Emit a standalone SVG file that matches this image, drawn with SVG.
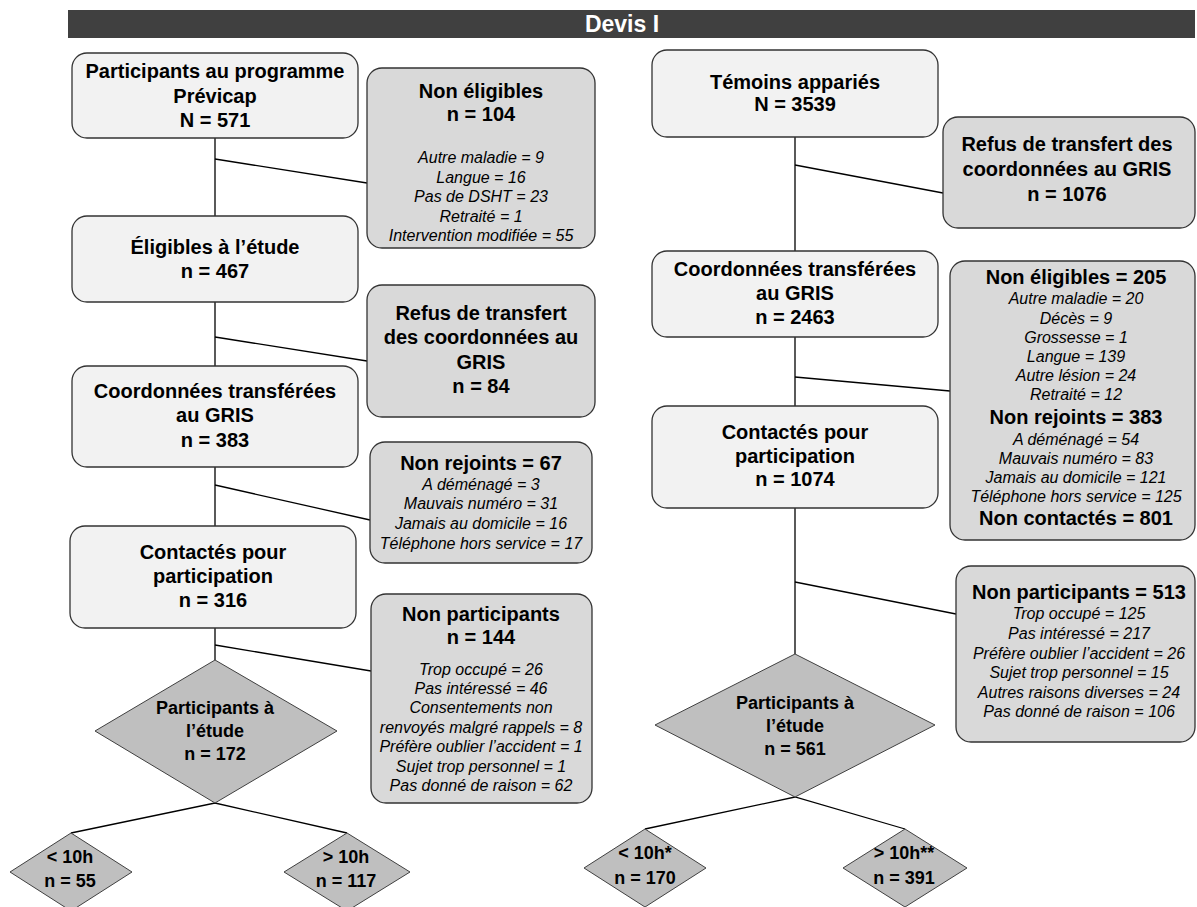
<svg xmlns="http://www.w3.org/2000/svg" width="1197" height="907" viewBox="0 0 1197 907">
  <style>
    text { font-family: "Liberation Sans", Arial, sans-serif; text-anchor: middle; fill: #000; }
    .title { font-size: 23px; font-weight: bold; fill: #fff; }
    .b { font-size: 20px; font-weight: bold; }
    .d { font-size: 18px; font-weight: bold; }
    .i { font-size: 16px; font-style: italic; }
    .lb { fill: #f2f2f2; stroke: #333; stroke-width: 1.3; }
    .gb { fill: #d9d9d9; stroke: #333; stroke-width: 1.3; }
    .dm { fill: #bfbfbf; stroke: #404040; stroke-width: 1; }
    .cn { stroke: #000; stroke-width: 1.3; fill: none; }
  </style>

  <!-- header -->
  <g id="header">
    <rect x="68" y="10" width="1127" height="28" fill="#404040"/>
    <text class="title" x="622" y="32">Devis I</text>
  </g>

  <!-- connectors -->
  <g id="connectors">
    <line class="cn" x1="215" y1="138" x2="215" y2="660"/>
    <line class="cn" x1="215" y1="159" x2="367" y2="183"/>
    <line class="cn" x1="215" y1="337" x2="367" y2="361"/>
    <line class="cn" x1="215" y1="485" x2="370" y2="520"/>
    <line class="cn" x1="215" y1="645" x2="371" y2="671"/>
    <polyline class="cn" points="71,833 215,803 347,833"/>

    <line class="cn" x1="795" y1="137" x2="795" y2="654"/>
    <line class="cn" x1="795" y1="165" x2="943" y2="193"/>
    <line class="cn" x1="795" y1="377" x2="950" y2="391"/>
    <line class="cn" x1="795" y1="582" x2="956" y2="614"/>
    <polyline class="cn" points="645,829 795,797 905,829"/>
  </g>

  <!-- left column -->
  <g id="prevVicap">
    <rect class="lb" x="72" y="53" width="286" height="85" rx="15"/>
    <text class="b" x="215" y="78">Participants au programme</text>
    <text class="b" x="215" y="103">Prévicap</text>
    <text class="b" x="215" y="127">N = 571</text>
  </g>
  <g id="eligibles">
    <rect class="lb" x="72" y="216" width="286" height="86" rx="15"/>
    <text class="b" x="215" y="254">Éligibles à l’étude</text>
    <text class="b" x="215" y="278">n = 467</text>
  </g>
  <g id="coordL">
    <rect class="lb" x="72" y="366" width="286" height="101" rx="15"/>
    <text class="b" x="215" y="398">Coordonnées transférées</text>
    <text class="b" x="215" y="422">au GRIS</text>
    <text class="b" x="215" y="447">n = 383</text>
  </g>
  <g id="contactesL">
    <rect class="lb" x="70" y="526" width="286" height="102" rx="15"/>
    <text class="b" x="213" y="559">Contactés pour</text>
    <text class="b" x="213" y="583">participation</text>
    <text class="b" x="213" y="607">n = 316</text>
  </g>
  <g id="participantsL">
    <polygon class="dm" points="215,660 337,731 215,803 95,731"/>
    <text class="d" x="215" y="714">Participants à</text>
    <text class="d" x="215" y="737">l’étude</text>
    <text class="d" x="215" y="760">n = 172</text>
  </g>
  <g id="moinsL">
    <polygon class="dm" points="71,833 132,872 71,911 10,872"/>
    <text class="d" x="70" y="863">&lt; 10h</text>
    <text class="d" x="70" y="887">n = 55</text>
  </g>
  <g id="plusL">
    <polygon class="dm" points="347,833 410,872 347,911 284,872"/>
    <text class="d" x="346" y="863">&gt; 10h</text>
    <text class="d" x="346" y="887">n = 117</text>
  </g>

  <g id="nonEligiblesL">
    <rect class="gb" x="367" y="68" width="228" height="180" rx="15"/>
    <text class="b" x="481" y="98">Non éligibles</text>
    <text class="b" x="481" y="121">n = 104</text>
    <text class="i" x="481" y="163">Autre maladie = 9</text>
    <text class="i" x="481" y="182.5">Langue = 16</text>
    <text class="i" x="481" y="202">Pas de DSHT = 23</text>
    <text class="i" x="481" y="221.5">Retraité = 1</text>
    <text class="i" x="481" y="241">Intervention modifiée = 55</text>
  </g>
  <g id="refusL">
    <rect class="gb" x="367" y="285" width="228" height="132" rx="15"/>
    <text class="b" x="481" y="320">Refus de transfert</text>
    <text class="b" x="481" y="344">des coordonnées au</text>
    <text class="b" x="481" y="369">GRIS</text>
    <text class="b" x="481" y="393">n = 84</text>
  </g>
  <g id="nonRejointsL">
    <rect class="gb" x="370" y="442" width="222" height="121" rx="15"/>
    <text class="b" x="481" y="470">Non rejoints = 67</text>
    <text class="i" x="481" y="489.5">A déménagé = 3</text>
    <text class="i" x="481" y="508.5">Mauvais numéro = 31</text>
    <text class="i" x="481" y="528.5">Jamais au domicile = 16</text>
    <text class="i" x="481" y="548.5">Téléphone hors service = 17</text>
  </g>
  <g id="nonParticipantsL">
    <rect class="gb" x="371" y="594" width="221" height="209" rx="15"/>
    <text class="b" x="481" y="621">Non participants</text>
    <text class="b" x="481" y="644">n = 144</text>
    <text class="i" x="481" y="674.5">Trop occupé = 26</text>
    <text class="i" x="481" y="693.5">Pas intéressé = 46</text>
    <text class="i" x="481" y="712.5">Consentements non</text>
    <text class="i" x="481" y="732.5">renvoyés malgré rappels = 8</text>
    <text class="i" x="481" y="751.5">Préfère oublier l’accident = 1</text>
    <text class="i" x="481" y="771.5">Sujet trop personnel = 1</text>
    <text class="i" x="481" y="790.5">Pas donné de raison = 62</text>
  </g>

  <!-- right column -->
  <g id="temoins">
    <rect class="lb" x="652" y="50" width="286" height="87" rx="15"/>
    <text class="b" x="795" y="89">Témoins appariés</text>
    <text class="b" x="795" y="111">N = 3539</text>
  </g>
  <g id="coordR">
    <rect class="lb" x="652" y="251" width="286" height="86" rx="15"/>
    <text class="b" x="795" y="276">Coordonnées transférées</text>
    <text class="b" x="795" y="300">au GRIS</text>
    <text class="b" x="795" y="324">n = 2463</text>
  </g>
  <g id="contactesR">
    <rect class="lb" x="652" y="406" width="286" height="102" rx="15"/>
    <text class="b" x="795" y="439">Contactés pour</text>
    <text class="b" x="795" y="463">participation</text>
    <text class="b" x="795" y="486">n = 1074</text>
  </g>
  <g id="participantsR">
    <polygon class="dm" points="795,654 935,725 795,797 655,725"/>
    <text class="d" x="795" y="709">Participants à</text>
    <text class="d" x="795" y="732">l’étude</text>
    <text class="d" x="795" y="755">n = 561</text>
  </g>
  <g id="moinsR">
    <polygon class="dm" points="645,829 706,868 645,907 584,868"/>
    <text class="d" x="645" y="859">&lt; 10h*</text>
    <text class="d" x="645" y="884">n = 170</text>
  </g>
  <g id="plusR">
    <polygon class="dm" points="905,829 967,868 905,907 843,868"/>
    <text class="d" x="904" y="859">&gt; 10h**</text>
    <text class="d" x="904" y="884">n = 391</text>
  </g>

  <g id="refusR">
    <rect class="gb" x="943" y="117" width="252" height="111" rx="15"/>
    <text class="b" x="1067" y="151">Refus de transfert des</text>
    <text class="b" x="1067" y="176">coordonnées au GRIS</text>
    <text class="b" x="1067" y="201">n = 1076</text>
  </g>
  <g id="nonEligiblesR">
    <rect class="gb" x="950" y="261" width="245" height="279" rx="15"/>
    <text class="b" x="1076" y="284">Non éligibles = 205</text>
    <text class="i" x="1076" y="303.5">Autre maladie = 20</text>
    <text class="i" x="1076" y="323.5">Décès = 9</text>
    <text class="i" x="1076" y="342.5">Grossesse = 1</text>
    <text class="i" x="1076" y="361.5">Langue = 139</text>
    <text class="i" x="1076" y="380.5">Autre lésion = 24</text>
    <text class="i" x="1076" y="399.5">Retraité = 12</text>
    <text class="b" x="1076" y="424">Non rejoints = 383</text>
    <text class="i" x="1076" y="444.5">A déménagé = 54</text>
    <text class="i" x="1076" y="463.5">Mauvais numéro = 83</text>
    <text class="i" x="1076" y="482.5">Jamais au domicile = 121</text>
    <text class="i" x="1076" y="501.5">Téléphone hors service = 125</text>
    <text class="b" x="1076" y="525">Non contactés = 801</text>
  </g>
  <g id="nonParticipantsR">
    <rect class="gb" x="956" y="566" width="239" height="176" rx="15"/>
    <text class="b" x="1079" y="599">Non participants = 513</text>
    <text class="i" x="1079" y="618.5">Trop occupé = 125</text>
    <text class="i" x="1079" y="638.5">Pas intéressé = 217</text>
    <text class="i" x="1079" y="658.5">Préfère oublier l’accident = 26</text>
    <text class="i" x="1079" y="677.5">Sujet trop personnel = 15</text>
    <text class="i" x="1079" y="697.5">Autres raisons diverses = 24</text>
    <text class="i" x="1079" y="716.5">Pas donné de raison = 106</text>
  </g>
</svg>
